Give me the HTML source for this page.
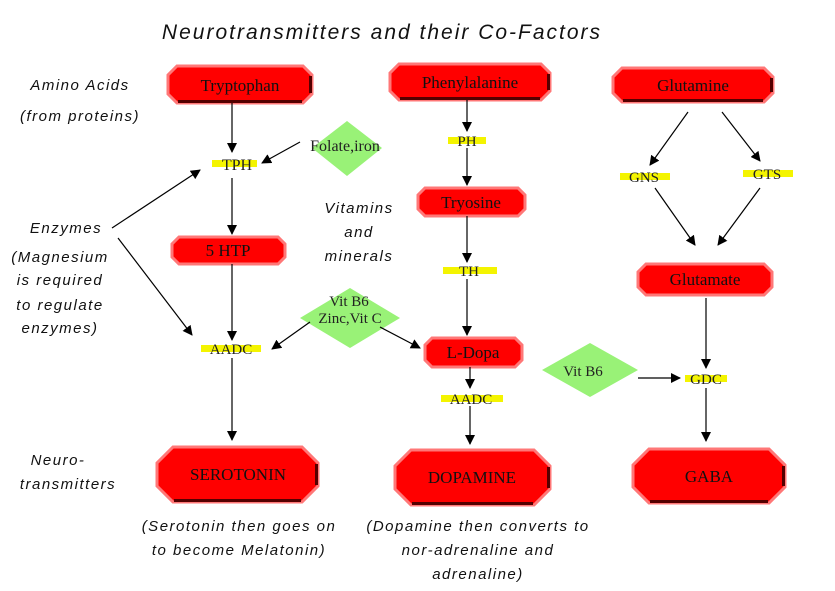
<!DOCTYPE html>
<html><head><meta charset="utf-8"><style>
body{margin:0;background:#fff}
svg{display:block}
.b{fill:#f00;stroke:#f77;stroke-width:3;stroke-linejoin:miter}
.bt{font-family:"Liberation Serif",serif;font-size:17px;fill:#111;text-anchor:middle}
.h{font-family:"Liberation Sans",sans-serif;font-style:italic;font-size:15px;fill:#111;text-anchor:middle;letter-spacing:1.5px}
.e{font-family:"Liberation Serif",serif;font-size:15px;fill:#222;text-anchor:middle}
.y{fill:#f4f400}
.d{fill:#99f277}
.k{stroke:#500;stroke-width:3;fill:none}
line{stroke:#000;stroke-width:1.2}
</style></head><body>
<svg width="835" height="591" viewBox="0 0 835 591" xmlns="http://www.w3.org/2000/svg">
<defs><marker id="a" markerWidth="10" markerHeight="10" refX="9" refY="5" orient="auto" markerUnits="userSpaceOnUse"><path d="M0,0 L10,5 L0,10 z" fill="#000"/></marker></defs>
<text x="382" y="39" class="h" style="font-size:21px;letter-spacing:2px">Neurotransmitters and their Co-Factors</text>
<text x="80" y="90" class="h">Amino Acids</text>
<text x="80" y="121" class="h">(from proteins)</text>
<text x="66" y="233" class="h">Enzymes</text>
<text x="60" y="262" class="h">(Magnesium</text>
<text x="60" y="285" class="h">is required</text>
<text x="60" y="310" class="h">to regulate</text>
<text x="60" y="333" class="h">enzymes)</text>
<text x="359" y="213" class="h">Vitamins</text>
<text x="359" y="237" class="h">and</text>
<text x="359" y="261" class="h">minerals</text>
<text x="58" y="465" class="h">Neuro-</text>
<text x="68" y="489" class="h">transmitters</text>
<text x="239" y="531" class="h">(Serotonin then goes on</text>
<text x="239" y="555" class="h">to become Melatonin)</text>
<text x="478" y="531" class="h">(Dopamine then converts to</text>
<text x="478" y="555" class="h">nor-adrenaline and</text>
<text x="478" y="579" class="h">adrenaline)</text>

<g>
<polygon class="b" points="177,66 303,66 312,75 312,94 303,103 177,103 168,94 168,75"/>
<polygon class="b" points="399,64 541,64 550,73 550,91 541,100 399,100 390,91 390,73"/>
<polygon class="b" points="622,68 764,68 773,77 773,93 764,102 622,102 613,93 613,77"/>
<polygon class="b" points="425,188 518,188 525,195 525,209 518,216 425,216 418,209 418,195"/>
<polygon class="b" points="179,237 278,237 285,244 285,257 278,264 179,264 172,257 172,244"/>
<polygon class="b" points="646,264 764,264 772,272 772,287 764,295 646,295 638,287 638,272"/>
<polygon class="b" points="432,338 515,338 522,345 522,360 515,367 432,367 425,360 425,345"/>
<polygon class="b" points="173,447 302,447 318,463 318,486 302,502 173,502 157,486 157,463"/>
<polygon class="b" points="411,450 534,450 550,466 550,489 534,505 411,505 395,489 395,466"/>
<polygon class="b" points="649,449 769,449 785,465 785,487 769,503 649,503 633,487 633,465"/>
</g>
<g class="k">
<path d="M178,101.5 H302 M310.5,76 V93"/>
<path d="M400,98.5 H540 M548.5,74 V90"/>
<path d="M623,100.5 H763 M771.5,78 V92"/>
<path d="M174,500.5 H301 M316.5,464 V485"/>
<path d="M412,503.5 H533 M548.5,467 V488"/>
<path d="M650,501.5 H768 M783.5,466 V486"/>
</g>
<text x="240" y="91" class="bt">Tryptophan</text>
<text x="470" y="88" class="bt">Phenylalanine</text>
<text x="693" y="91" class="bt">Glutamine</text>
<text x="471" y="208" class="bt">Tryosine</text>
<text x="228" y="256" class="bt">5 HTP</text>
<text x="705" y="285" class="bt">Glutamate</text>
<text x="473" y="358" class="bt">L-Dopa</text>
<text x="238" y="480" class="bt">SEROTONIN</text>
<text x="472" y="483" class="bt">DOPAMINE</text>
<text x="709" y="482" class="bt">GABA</text>

<polygon class="d" points="347,121 382,148 347,176 312,148"/>
<polygon class="d" points="350,288 400,318 350,348 300,318"/>
<polygon class="d" points="590,343 638,370 590,397 542,370"/>

<rect class="y" x="212" y="160" width="45" height="7"/>
<rect class="y" x="448" y="137" width="38" height="7"/>
<rect class="y" x="443" y="267" width="54" height="7"/>
<rect class="y" x="201" y="345" width="60" height="7"/>
<rect class="y" x="441" y="395" width="62" height="7"/>
<rect class="y" x="620" y="173" width="50" height="7"/>
<rect class="y" x="743" y="170" width="50" height="7"/>
<rect class="y" x="685" y="375" width="42" height="7"/>

<text x="237" y="170" class="e" style="font-size:16px">TPH</text>
<text x="467" y="146" class="e">PH</text>
<text x="469" y="276" class="e">TH</text>
<text x="231" y="354" class="e">AADC</text>
<text x="471" y="404" class="e">AADC</text>
<text x="644" y="182" class="e">GNS</text>
<text x="767" y="179" class="e">GTS</text>
<text x="706" y="384" class="e">GDC</text>
<text x="345" y="151" class="e" style="font-size:16px">Folate,iron</text>
<text x="349" y="306" class="e">Vit B6</text>
<text x="350" y="323" class="e">Zinc,Vit C</text>
<text x="583" y="376" class="e">Vit B6</text>

<g marker-end="url(#a)">
<line x1="232" y1="103" x2="232" y2="152"/>
<line x1="232" y1="178" x2="232" y2="234"/>
<line x1="232" y1="264" x2="232" y2="340"/>
<line x1="232" y1="358" x2="232" y2="440"/>
<line x1="300" y1="142" x2="262" y2="163"/>
<line x1="112" y1="228" x2="200" y2="170"/>
<line x1="118" y1="238" x2="192" y2="335"/>
<line x1="310" y1="322" x2="272" y2="349"/>
<line x1="380" y1="327" x2="420" y2="348"/>
<line x1="467" y1="100" x2="467" y2="131"/>
<line x1="467" y1="148" x2="467" y2="185"/>
<line x1="467" y1="216" x2="467" y2="262"/>
<line x1="467" y1="279" x2="467" y2="335"/>
<line x1="470" y1="367" x2="470" y2="388"/>
<line x1="470" y1="406" x2="470" y2="444"/>
<line x1="688" y1="112" x2="650" y2="165"/>
<line x1="722" y1="112" x2="760" y2="161"/>
<line x1="655" y1="188" x2="695" y2="245"/>
<line x1="760" y1="188" x2="718" y2="245"/>
<line x1="706" y1="298" x2="706" y2="368"/>
<line x1="638" y1="378" x2="680" y2="378"/>
<line x1="706" y1="388" x2="706" y2="441"/>
</g>
</svg>
</body></html>
